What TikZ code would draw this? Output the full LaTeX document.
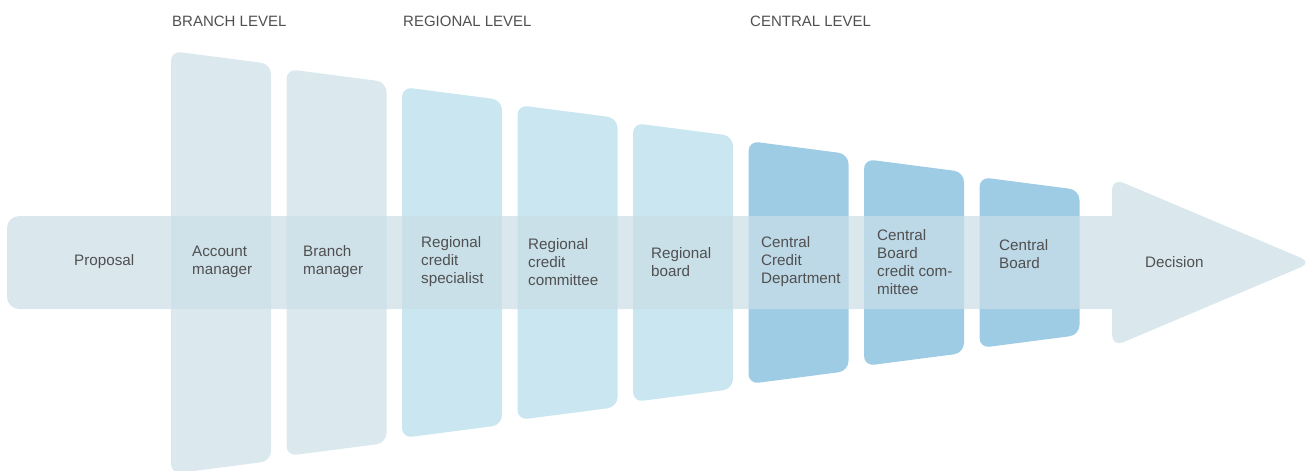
\documentclass[tikz,border=0pt]{standalone}
\usepackage{fontspec}
\setmainfont{Liberation Sans}
\usepackage{xcolor}
\usetikzlibrary{positioning}

\definecolor{branchblue}{HTML}{DBE9EF}
\definecolor{regionblue}{HTML}{C9E6F1}
\definecolor{centralblue}{HTML}{9FCCE5}
\definecolor{bandblue}{HTML}{CADEE7}
\definecolor{textgray}{HTML}{505050}

\begin{document}
\begin{tikzpicture}[x=1pt, y=-1pt,
    panel/.style={rounded corners=10pt},
    band/.style={fill=bandblue, rounded corners=12pt},
    stage/.style={anchor=west, align=left, inner sep=0pt, text=textgray,
        font=\fontsize{15.2}{18}\selectfont},
    level/.style={anchor=base west, inner sep=0pt, text=textgray,
        font=\fontsize{15}{16}\selectfont}]
    \useasboundingbox (0,0) rectangle (1309,471);

    % Draw the eight trapezoid panels, each a bit shorter than the last
    \foreach \i/\col in {0/branchblue, 1/branchblue, 2/regionblue, 3/regionblue,
        4/regionblue, 5/centralblue, 6/centralblue, 7/centralblue} {
        \pgfmathsetmacro{\xl}{171+115.5*\i}
        \pgfmathsetmacro{\xr}{\xl+100}
        \pgfmathsetmacro{\ytl}{51+18*\i}
        \pgfmathsetmacro{\ytr}{\ytl+13}
        \fill[panel, \col] (\xl,\ytl) -- (\xr,\ytr) -- (\xr,525-\ytr)
            -- (\xl,525-\ytl) -- cycle;
    }

    % Draw the arrow across all panels, shaft and head as one see-through group
    \begin{scope}[transparency group, opacity=0.7]
        \fill[band] (1140,216) -- (7,216) -- (7,309) -- (1140,309);
        \fill[band] (1112,178) -- (1312,262.5) -- (1112,347) -- cycle;
    \end{scope}

    % Level headings
    \node[level] (branch) at (172,27) {BRANCH LEVEL};
    \node[level] (region) at (403,27) {REGIONAL LEVEL};
    \node[level] (central) at (750,27) {CENTRAL LEVEL};

    % Stage labels
    \node[stage] (proposal) at (74,262) {Proposal};
    \node[stage] (account) at (192,262) {Account\\manager};
    \node[stage] (branchmgr) at (303,262) {Branch\\manager};
    \node[stage] (specialist) at (421,262) {Regional\\credit\\specialist};
    \node[stage] (committee) at (528,262) {Regional\\credit\\committee};
    \node[stage] (regboard) at (651,262) {Regional\\board};
    \node[stage] (ccd) at (761,262) {Central\\Credit\\Department};
    \node[stage] (cbcc) at (877,262) {Central\\Board\\credit com-\\mittee};
    \node[stage] (cboard) at (999,254) {Central\\Board};
    \node[stage] (decision) at (1145,262) {Decision};
\end{tikzpicture}
\end{document}
